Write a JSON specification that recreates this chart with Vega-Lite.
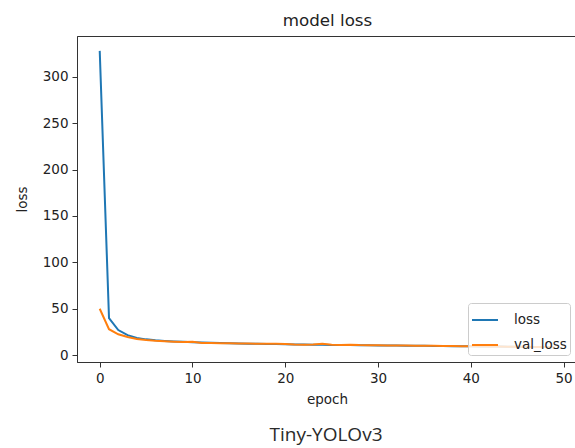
{
  "$schema": "https://vega.github.io/schema/vega-lite/v6.json",
  "autosize": "none",
  "padding": {"left": 77, "top": 36, "right": 0, "bottom": 86},
  "width": 500,
  "height": 326,
  "background": "white",
  "title": {"text": "Tiny-YOLOv3", "orient": "bottom", "anchor": "middle", "font": "Open Sans", "fontSize": 19, "fontWeight": "normal", "color": "#2a2a2a", "offset": 20, "dx": -1},
  "config": {
    "view": {"stroke": "#333", "strokeWidth": 1},
    "axis": {"grid": false, "domainColor": "#333", "tickColor": "#333", "tickSize": 5, "labelFont": "DejaVu Sans", "labelFontSize": 13.5, "labelColor": "#222", "titleFont": "DejaVu Sans", "titleFontSize": 13.5, "titleFontWeight": "normal", "titleColor": "#222", "labelPadding": 4}
  },
  "data": {"values": [
    {"epoch":0,"series":"loss","value":328},{"epoch":1,"series":"loss","value":40},{"epoch":2,"series":"loss","value":27},{"epoch":3,"series":"loss","value":21.5},{"epoch":4,"series":"loss","value":18.5},{"epoch":5,"series":"loss","value":17},{"epoch":6,"series":"loss","value":16},{"epoch":7,"series":"loss","value":15.3},{"epoch":8,"series":"loss","value":14.8},{"epoch":9,"series":"loss","value":14.3},
    {"epoch":10,"series":"loss","value":14},{"epoch":11,"series":"loss","value":13.6},{"epoch":12,"series":"loss","value":13.3},{"epoch":13,"series":"loss","value":13},{"epoch":14,"series":"loss","value":12.8},{"epoch":15,"series":"loss","value":12.6},{"epoch":16,"series":"loss","value":12.4},{"epoch":17,"series":"loss","value":12.2},{"epoch":18,"series":"loss","value":12},{"epoch":19,"series":"loss","value":11.9},
    {"epoch":20,"series":"loss","value":11.7},{"epoch":21,"series":"loss","value":11.5},{"epoch":22,"series":"loss","value":11.4},{"epoch":23,"series":"loss","value":11.2},{"epoch":24,"series":"loss","value":11.1},{"epoch":25,"series":"loss","value":11},{"epoch":26,"series":"loss","value":10.9},{"epoch":27,"series":"loss","value":10.8},{"epoch":28,"series":"loss","value":10.7},{"epoch":29,"series":"loss","value":10.6},
    {"epoch":30,"series":"loss","value":10.5},{"epoch":31,"series":"loss","value":10.4},{"epoch":32,"series":"loss","value":10.3},{"epoch":33,"series":"loss","value":10.2},{"epoch":34,"series":"loss","value":10.1},{"epoch":35,"series":"loss","value":10},{"epoch":36,"series":"loss","value":9.9},{"epoch":37,"series":"loss","value":9.8},{"epoch":38,"series":"loss","value":9.7},{"epoch":39,"series":"loss","value":9.6},
    {"epoch":40,"series":"loss","value":9.5},{"epoch":41,"series":"loss","value":9.4},{"epoch":42,"series":"loss","value":9.3},{"epoch":43,"series":"loss","value":9.2},{"epoch":44,"series":"loss","value":9.1},{"epoch":45,"series":"loss","value":9},{"epoch":46,"series":"loss","value":8.9},{"epoch":47,"series":"loss","value":8.8},{"epoch":48,"series":"loss","value":8.7},{"epoch":49,"series":"loss","value":8.6},
    {"epoch":0,"series":"val_loss","value":50},{"epoch":1,"series":"val_loss","value":28},{"epoch":2,"series":"val_loss","value":22.5},{"epoch":3,"series":"val_loss","value":19.5},{"epoch":4,"series":"val_loss","value":17.5},{"epoch":5,"series":"val_loss","value":16.3},{"epoch":6,"series":"val_loss","value":15.5},{"epoch":7,"series":"val_loss","value":15},{"epoch":8,"series":"val_loss","value":14.5},{"epoch":9,"series":"val_loss","value":14.2},
    {"epoch":10,"series":"val_loss","value":14.5},{"epoch":11,"series":"val_loss","value":13.2},{"epoch":12,"series":"val_loss","value":13},{"epoch":13,"series":"val_loss","value":12.9},{"epoch":14,"series":"val_loss","value":12.7},{"epoch":15,"series":"val_loss","value":12.5},{"epoch":16,"series":"val_loss","value":12.5},{"epoch":17,"series":"val_loss","value":12.3},{"epoch":18,"series":"val_loss","value":12.2},{"epoch":19,"series":"val_loss","value":12.3},
    {"epoch":20,"series":"val_loss","value":12},{"epoch":21,"series":"val_loss","value":11.5},{"epoch":22,"series":"val_loss","value":11.3},{"epoch":23,"series":"val_loss","value":11.5},{"epoch":24,"series":"val_loss","value":12.3},{"epoch":25,"series":"val_loss","value":11.2},{"epoch":26,"series":"val_loss","value":11},{"epoch":27,"series":"val_loss","value":11.2},{"epoch":28,"series":"val_loss","value":10.8},{"epoch":29,"series":"val_loss","value":10.7},
    {"epoch":30,"series":"val_loss","value":10.6},{"epoch":31,"series":"val_loss","value":10.5},{"epoch":32,"series":"val_loss","value":10.5},{"epoch":33,"series":"val_loss","value":10.3},{"epoch":34,"series":"val_loss","value":10.2},{"epoch":35,"series":"val_loss","value":10.1},{"epoch":36,"series":"val_loss","value":10},{"epoch":37,"series":"val_loss","value":9.8},{"epoch":38,"series":"val_loss","value":9.9},{"epoch":39,"series":"val_loss","value":9.6},
    {"epoch":40,"series":"val_loss","value":9.5},{"epoch":41,"series":"val_loss","value":9.5},{"epoch":42,"series":"val_loss","value":9.3},{"epoch":43,"series":"val_loss","value":9.2},{"epoch":44,"series":"val_loss","value":9.1},{"epoch":45,"series":"val_loss","value":9.1},{"epoch":46,"series":"val_loss","value":9},{"epoch":47,"series":"val_loss","value":8.9},{"epoch":48,"series":"val_loss","value":8.8},{"epoch":49,"series":"val_loss","value":8.8}
  ]},
  "layer": [
    {
      "transform": [{"filter": "datum.series == 'loss'"}],
      "mark": {"type": "line", "strokeWidth": 2},
      "encoding": {
        "x": {"field": "epoch", "type": "quantitative", "scale": {"domain": [-2.45, 51.45], "nice": false, "zero": false},
              "axis": {"orient": "bottom", "values": [0, 10, 20, 30, 40, 50], "title": "epoch", "titlePadding": 8}},
        "y": {"field": "value", "type": "quantitative", "scale": {"domain": [-7.4, 344], "nice": false, "zero": false},
              "axis": {"values": [0, 50, 100, 150, 200, 250, 300], "title": "loss", "titlePadding": 13}},
        "color": {"field": "series", "type": "nominal", "scale": {"domain": ["loss", "val_loss"], "range": ["#1f77b4", "#ff7f0e"]},
                  "legend": {"title": null, "orient": "bottom-right", "offset": 7, "symbolType": "stroke", "symbolSize": 676, "symbolStrokeWidth": 2, "labelFont": "DejaVu Sans", "labelFontSize": 13.5, "labelColor": "#222", "labelOffset": 15, "rowPadding": 4, "padding": 3, "strokeColor": "#ccc", "fillColor": "rgba(255,255,255,0.8)", "cornerRadius": 3}}
      }
    },
    {
      "transform": [{"filter": "datum.series == 'val_loss'"}],
      "mark": {"type": "line", "strokeWidth": 2},
      "encoding": {
        "x": {"field": "epoch", "type": "quantitative",
              "axis": {"orient": "top", "title": "model loss", "labels": false, "ticks": false, "domain": false, "titleFontSize": 16.7, "titlePadding": 7}},
        "y": {"field": "value", "type": "quantitative"},
        "color": {"field": "series", "type": "nominal"}
      }
    }
  ],
  "resolve": {"axis": {"x": "independent"}}
}
